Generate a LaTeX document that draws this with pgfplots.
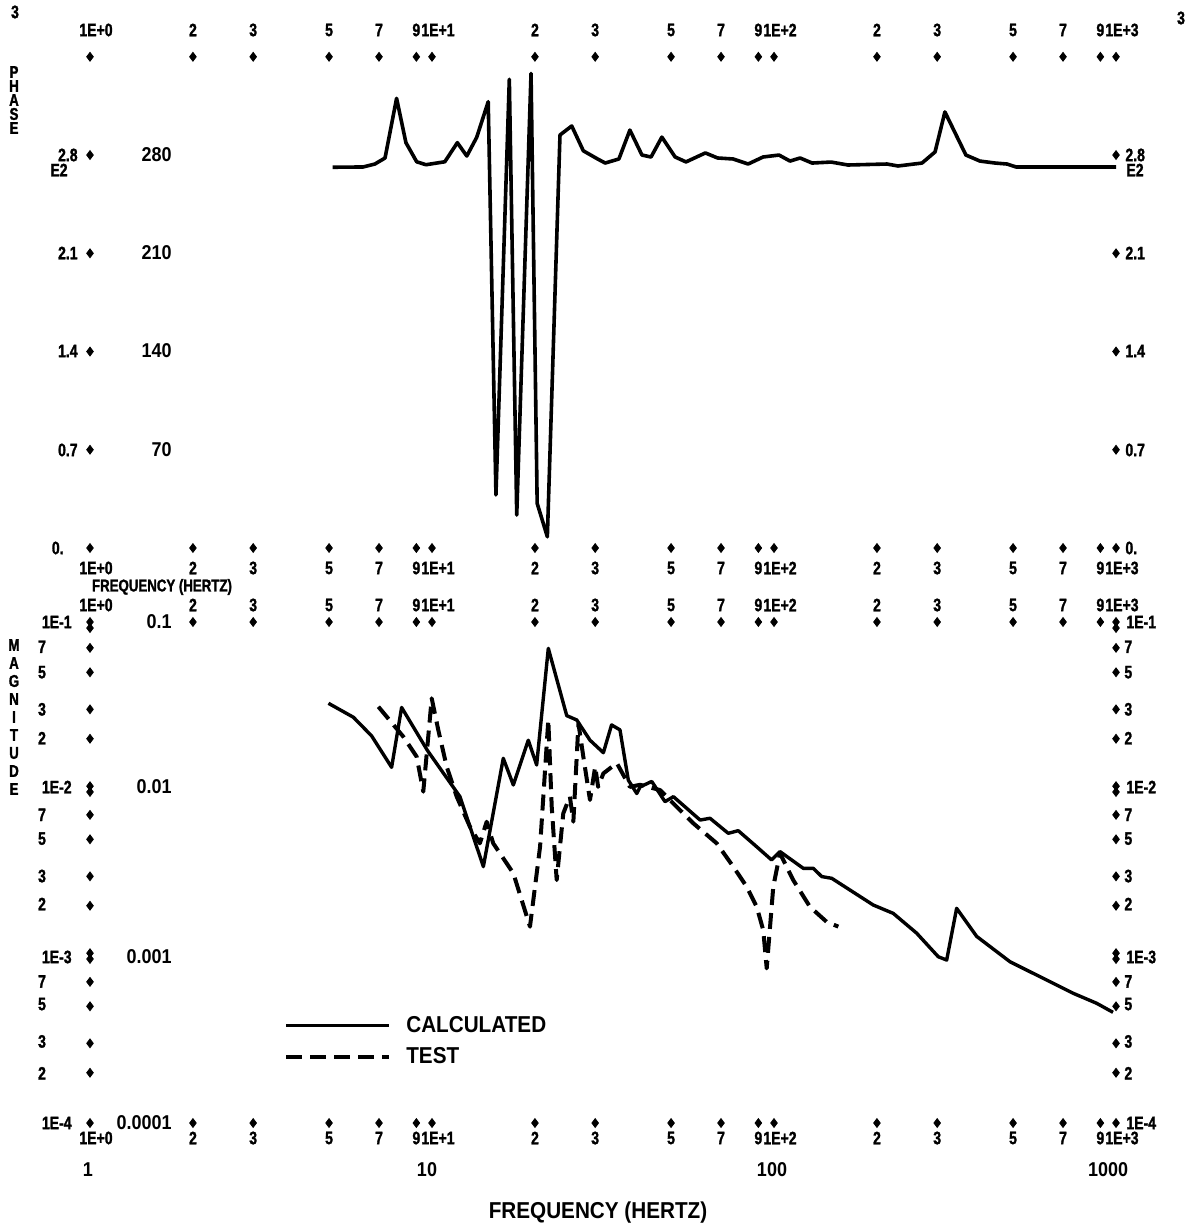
\documentclass[border=0pt]{standalone}
\usepackage{pgfplots}
\pgfplotsset{compat=1.18}
\usepackage{fontspec}
\setmainfont{Liberation Sans}
\newfontfamily\plotfont[FakeStretch=0.78,FakeBold=1.5]{Liberation Sans Bold}
\newfontfamily\cleanfont[FakeStretch=0.9]{Liberation Sans}
\newcommand\pf{\plotfont\fontsize{9}{10}\selectfont}
\newcommand\pfs{\plotfont\fontsize{8.5}{9}\selectfont}
\newcommand\cf{\cleanfont\bfseries\fontsize{10}{12}\selectfont}
\newcommand\xrow[1]{%
  \foreach \f/\l in {2/2,3/3,5/5,7/7,9/9,20/2,30/3,50/5,70/7,90/9,200/2,300/3,500/5,700/7,900/9}
    \node[font=\pf, inner sep=0pt] at ({90+342*log10(\f)},#1) {\l};
  \foreach \f/\l in {1/1E+0,10/1E+1,100/1E+2,1000/1E+3}
    \node[font=\pf, inner sep=0pt, anchor=west] at ({79+342*log10(\f)},#1) {\l};
}
\begin{document}
\begin{tikzpicture}[x=0.5pt,y=-0.5pt]
\useasboundingbox (0,0) rectangle (1191,1229);

% ---------------- PHASE ----------------
\begin{axis}[scale only axis, width=513pt, xmode=log, xmin=1, xmax=1000, hide axis, clip=false,
  at={(45pt,-274pt)}, anchor=south west, height=245.6pt, ymin=0, ymax=350]
\addplot[only marks, mark=diamond*, mark size=2.2pt, black, forget plot] coordinates {(1,350)(2,350)(3,350)(5,350)(7,350)(9,350)(10,350)(20,350)(30,350)(50,350)(70,350)(90,350)(100,350)(200,350)(300,350)(500,350)(700,350)(900,350)(1000,350)
(1,0)(2,0)(3,0)(5,0)(7,0)(9,0)(10,0)(20,0)(30,0)(50,0)(70,0)(90,0)(100,0)(200,0)(300,0)(500,0)(700,0)(900,0)(1000,0)
(1,70)(1,140)(1,210)(1,280)(1000,70)(1000,140)(1000,210)(1000,280)};
\addplot[black, line width=1.8pt, line join=round] coordinates {
(5.12,271.3)(6.29,271.5)(6.81,273.6)(7.29,277.9)(7.88,320.4)(8.39,288.8)(9.02,275.2)(9.6,273.1)(10.9,275.2)(11.86,288.8)(12.64,279.3)(13.51,292.6)(14.6,318)(15.38,37.8)(16.83,334)(17.69,23.5)(19.48,338.2)(20.3,31.8)(21.74,8)(23.67,294.3)(25.62,300.7)(27.7,283)(30.6,277)(32.1,274.3)(35.2,277.2)(37.9,297.8)(41.1,280)(43.7,278.6)(47,292.8)(51.4,278.6)(55.3,275.1)(63,281.5)(68.4,277.9)(75.9,277.2)(84,273.6)(92.9,278.6)(103.4,280)(111.4,275.7)(119.2,277.9)(129.2,274.3)(146.8,275)(164.5,272.9)(213.9,273.6)(230.5,272.2)(270.9,274.3)(295.7,282.2)(316,310.7)(364,280)(400,275.7)(443,274.3)(480,273.6)(510,271.5)(1000,271.5)};
\end{axis}

% ---------------- MAGNITUDE ----------------
\begin{axis}[scale only axis, width=513pt, xmode=log, xmin=1, xmax=1000, hide axis, clip=false,
  at={(45pt,-561.5pt)}, anchor=south west, height=250.5pt, ymode=log, ymin=1e-4, ymax=0.1,
  legend style={draw=none, fill=none, at={(rel axis cs:0.189,0.218)}, anchor=north west, inner sep=0pt,
    row sep=4pt, font=\cleanfont\bfseries\fontsize{11.5}{13}\selectfont, nodes={inner sep=1pt}},
  legend cell align=left,
  legend image code/.code={\draw[#1] (0pt,0pt) -- (51.5pt,0pt); \path (58pt,0pt);}]
\addplot[only marks, mark=diamond*, mark size=2.2pt, black, forget plot] coordinates {(1,0.1)(2,0.1)(3,0.1)(5,0.1)(7,0.1)(9,0.1)(10,0.1)(20,0.1)(30,0.1)(50,0.1)(70,0.1)(90,0.1)(100,0.1)(200,0.1)(300,0.1)(500,0.1)(700,0.1)(900,0.1)(1000,0.1)
(1,1e-4)(2,1e-4)(3,1e-4)(5,1e-4)(7,1e-4)(9,1e-4)(10,1e-4)(20,1e-4)(30,1e-4)(50,1e-4)(70,1e-4)(90,1e-4)(100,1e-4)(200,1e-4)(300,1e-4)(500,1e-4)(700,1e-4)(900,1e-4)(1000,1e-4)
(1,0.092)(1,0.07)(1,0.05)(1,0.03)(1,0.02)(1,0.0104)(1,0.0096)(1,0.007)(1,0.005)(1,0.003)(1,0.002)(1,0.00104)(1,0.00096)(1,0.0007)(1,0.0005)(1,0.0003)(1,0.0002)
(1000,0.092)(1000,0.07)(1000,0.05)(1000,0.03)(1000,0.02)(1000,0.0104)(1000,0.0096)(1000,0.007)(1000,0.005)(1000,0.003)(1000,0.002)(1000,0.00104)(1000,0.00096)(1000,0.0007)(1000,0.0005)(1000,0.0003)(1000,0.0002)};
\addplot[black, line width=1.7pt, line join=round] coordinates {
(4.98,0.0326)(5.89,0.0269)(6.66,0.0208)(7.62,0.01348)(8.15,0.0308)(9.7,0.017)(12.07,0.0090)(14.13,0.00343)(16.16,0.01527)(17.29,0.01057)(19.12,0.0196)(20.23,0.01393)(21.88,0.0696)(24.77,0.0275)(26.5,0.0259)(28.97,0.0196)(31.7,0.0165)(33.5,0.0242)(35.45,0.0226)(37.5,0.0113)(39.7,0.0094)(40.6,0.0103)(43.9,0.0111)(48,0.0084)(50.8,0.0090)(60.8,0.00652)(65,0.00668)(73.5,0.00543)(78.6,0.00563)(89,0.00451)(98.4,0.00376)(104.1,0.00422)(121.8,0.00335)(130.3,0.00335)(137.9,0.00299)(147.5,0.00292)(195.1,0.00202)(223.2,0.0018)(261.3,0.00137)(302.2,0.00099)(319.8,0.000946)(342,0.00193)(391.5,0.00131)(489.8,0.000924)(627,0.000718)(750,0.000598)(878,0.000521)(980,0.00046)};
\addlegendentry{CALCULATED}
\addplot[black, line width=2pt, dash pattern=on 8pt off 4pt, line join=round] coordinates {
(6.97,0.0311)(8.24,0.0206)(9.02,0.0156)(9.43,0.00964)(9.98,0.0349)(10.43,0.0226)(11.04,0.0136)(11.81,0.0090)(12.91,0.00594)(13.8,0.00473)(14.45,0.00637)(15.1,0.00473)(17.29,0.00313)(19.34,0.0015)(20.7,0.00451)(21.88,0.0259)(22.39,0.00783)(23.15,0.00285)(24.2,0.00715)(25.3,0.0090)(25.9,0.00637)(26.8,0.0247)(27.7,0.0156)(28.97,0.0086)(30,0.0136)(30.6,0.0103)(31.7,0.0124)(34.7,0.0143)(37.9,0.0103)(40.6,0.0106)(46.4,0.00986)(53.1,0.00748)(58.1,0.00623)(68,0.00473)(76,0.00343)(83.2,0.0026)(89,0.00197)(93,0.00143)(95.2,0.000843)(99.5,0.0026)(104.1,0.00412)(113.8,0.00285)(127.4,0.00197)(142.6,0.0016)(154.2,0.0015)};
\addlegendentry{TEST}
\end{axis}

% ---------------- TEXT ----------------
\node[font=\pf] at (15,12) {3};
\node[font=\pf] at (1181,18) {3};
\xrow{30}
\xrow{568}
\xrow{605}
\xrow{1138}
\node[font=\pfs, inner sep=0pt] at (162,587) {FREQUENCY (HERTZ)};

% phase left/right
\foreach \c/\yy in {P/72,H/86,A/100,S/114,E/128}
  \node[font=\pfs, inner sep=0pt] at (14,\yy) {\c};
\foreach \l/\yy in {2.8/155,2.1/253,1.4/351,0.7/450}
  {\node[font=\pf, inner sep=0pt, anchor=east] at (78,\yy) {\l};
   \node[font=\pf, inner sep=0pt, anchor=west] at (1125,\yy) {\l};}
\node[font=\pf, inner sep=0pt, anchor=west] at (50,170) {E2};
\node[font=\pf, inner sep=0pt, anchor=west] at (1126,170) {E2};
\node[font=\pf, inner sep=0pt, anchor=east] at (64,548) {0.};
\node[font=\pf, inner sep=0pt, anchor=west] at (1125,548) {0.};
\foreach \l/\yy in {280/155,210/253,140/351,70/450}
  \node[font=\cf, inner sep=0pt, anchor=east] at (172,\yy) {\l};

% magnitude left/right
\foreach \c [count=\i from 0] in {M,A,G,N,I,T,U,D,E}
  \node[font=\pfs, inner sep=0pt] at (14,{645+18*\i}) {\c};
\foreach \v/\l in {0.07/7,0.05/5,0.03/3,0.02/2,0.007/7,0.005/5,0.003/3,0.002/2,0.0007/7,0.0005/5,0.0003/3,0.0002/2}
  {\node[font=\pf, inner sep=0pt] at (42,{622-167*(log10(\v)+1)}) {\l};
   \node[font=\pf, inner sep=0pt, anchor=west] at (1124,{622-167*(log10(\v)+1)}) {\l};}
\foreach \l/\yy in {1E-1/622,1E-2/787,1E-3/957,1E-4/1123}
  {\node[font=\pf, inner sep=0pt, anchor=east] at (72,\yy) {\l};
   \node[font=\pf, inner sep=0pt, anchor=west] at (1126,\yy) {\l};}
\foreach \l/\yy in {0.1/622,0.01/787,0.001/957,0.0001/1123}
  \node[font=\cf, inner sep=0pt, anchor=east] at (172,\yy) {\l};

% bottom
\foreach \l/\xx in {1/88,10/427,100/772,1000/1108}
  \node[font=\cf, inner sep=0pt] at (\xx,1170) {\l};
\node[font=\cleanfont\bfseries\fontsize{11.5}{13}\selectfont, inner sep=0pt] at (598,1213) {FREQUENCY (HERTZ)};
\end{tikzpicture}
\end{document}
